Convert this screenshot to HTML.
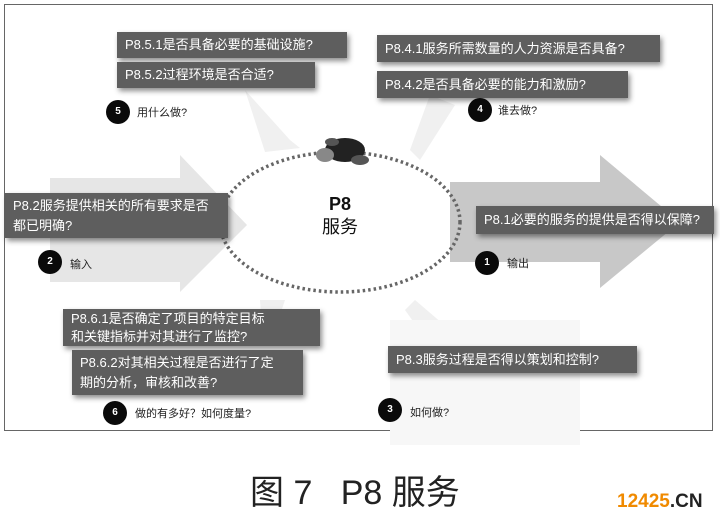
<!DOCTYPE html>
<html><head><meta charset="utf-8"><style>
body{margin:0;width:720px;height:526px;background:#fff;position:relative;overflow:hidden;font-family:"Liberation Sans","Noto Sans CJK SC",sans-serif}
.frame{position:absolute;left:4px;top:4px;width:709px;height:427px;border:1px solid #666;box-sizing:border-box}
.b{position:absolute;background:#5e5e5e;color:#fff;font-size:13px;line-height:18px;padding:0 8px;box-sizing:border-box;box-shadow:2px 3px 5px rgba(0,0,0,.45);display:flex;align-items:center;white-space:nowrap}
.c{position:absolute;width:24px;height:24px;border-radius:50%;background:#0a0a0a;color:#fff;font-size:10px;font-weight:bold;text-align:center;line-height:24px}
.t{position:absolute;font-size:11px;color:#222}
</style></head><body>
<div class="frame"></div>
<svg width="720" height="526" style="position:absolute;left:0;top:0">
<polygon points="50,178 180,178 180,155 247,225 180,292 180,282 50,282" fill="#e6e6e6"/>
<polygon points="450,182 600,182 600,155 680,222 600,288 600,262 450,262" fill="#c8c8c8"/>
<polygon points="245,90 290,140 300,148 265,152" fill="#f0f0f0"/>
<polygon points="430,95 455,105 420,160 410,150" fill="#f0f0f0"/>
<polygon points="260,300 285,300 275,330 262,330" fill="#f0f0f0"/>
<polygon points="415,300 450,330 430,345 405,310" fill="#f0f0f0"/>
<rect x="390" y="320" width="190" height="125" fill="#f7f7f7"/>
<ellipse cx="340" cy="222" rx="120" ry="70" fill="none" stroke="#666" stroke-width="3.5" stroke-dasharray="2.5 3"/>
<ellipse cx="345" cy="150" rx="20" ry="12" fill="#222"/>
<ellipse cx="325" cy="155" rx="9" ry="7" fill="#888"/>
<ellipse cx="360" cy="160" rx="9" ry="5" fill="#555"/>
<ellipse cx="332" cy="142" rx="7" ry="4" fill="#555"/>
</svg>
<div style="position:absolute;left:315px;top:194px;width:50px;text-align:center;font-weight:bold;font-size:18px;color:#111">P8</div>
<div style="position:absolute;left:305px;top:213px;width:70px;text-align:center;font-size:18px;color:#111">服务</div>

<div class="b" style="left:117px;top:32px;width:230px;height:26px">P8.5.1是否具备必要的基础设施?</div>
<div class="b" style="left:117px;top:62px;width:198px;height:26px">P8.5.2过程环境是否合适?</div>
<div class="c" style="left:106px;top:100px">5</div><div class="t" style="left:137px;top:104px">用什么做?</div>

<div class="b" style="left:377px;top:35px;width:283px;height:27px">P8.4.1服务所需数量的人力资源是否具备?</div>
<div class="b" style="left:377px;top:71px;width:251px;height:27px">P8.4.2是否具备必要的能力和激励?</div>
<div class="c" style="left:468px;top:98px">4</div><div class="t" style="left:498px;top:102px">谁去做?</div>

<div class="b" style="left:5px;top:193px;width:223px;height:45px;line-height:20px">P8.2服务提供相关的所有要求是否<br>都已明确?</div>
<div class="c" style="left:38px;top:250px">2</div><div class="t" style="left:70px;top:256px">输入</div>

<div class="b" style="left:476px;top:206px;width:238px;height:28px">P8.1必要的服务的提供是否得以保障?</div>
<div class="c" style="left:475px;top:251px">1</div><div class="t" style="left:507px;top:255px">输出</div>

<div class="b" style="left:63px;top:309px;width:257px;height:37px;line-height:18px">P8.6.1是否确定了项目的特定目标<br>和关键指标并对其进行了监控?</div>
<div class="b" style="left:72px;top:350px;width:231px;height:45px;line-height:20px">P8.6.2对其相关过程是否进行了定<br>期的分析，审核和改善?</div>
<div class="c" style="left:103px;top:401px">6</div><div class="t" style="left:135px;top:405px">做的有多好？如何度量?</div>

<div class="b" style="left:388px;top:346px;width:249px;height:27px">P8.3服务过程是否得以策划和控制?</div>
<div class="c" style="left:378px;top:398px">3</div><div class="t" style="left:410px;top:404px">如何做?</div>

<div style="position:absolute;left:250px;top:465px;width:260px;font-size:34px;color:#222;white-space:pre">图 7   P8 服务</div>
<div style="position:absolute;left:617px;top:491px;font-size:19px;font-weight:bold;white-space:nowrap"><span style="color:#f08a00">12425</span><span style="color:#222">.CN</span></div>
</body></html>
